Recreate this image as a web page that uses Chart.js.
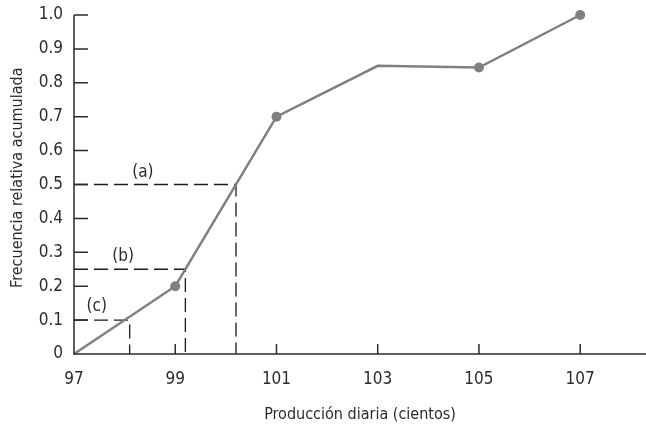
<!DOCTYPE html>
<html>
<head>
<meta charset="utf-8">
<script src="https://cdn.jsdelivr.net/npm/chart.js@4"></script>
<style>
  html, body { margin: 0; padding: 0; background: #fff; }
  #wrap { width: 646px; height: 428px; position: relative; }
</style>
</head>
<body>
<div id="wrap"><canvas id="ojiva"></canvas></div>
<script>
/* Ojiva: frecuencia relativa acumulada vs producción diaria */

const FONT = '"Liberation Sans Narrow", "DejaVu Sans Condensed", sans-serif';

// curve
const prodX = [97, 99, 101, 103, 105, 107];
const freqAcum = [0, 0.2, 0.7, 0.85, 0.845, 1.0];
const markerOn = [false, true, true, false, true, true];

// dashed reading lines
const guideY = [0.5, 0.25, 0.1];
const guideX = [100.2, 99.2, 98.1];
const guideTags = ['(a)', '(b)', '(c)'];
const tagX = [98.36, 97.97, 97.45];
const tagY = [0.535, 0.286, 0.14];

const xTicks = [97, 99, 101, 103, 105, 107];
const yTicks = [0, 0.1, 0.2, 0.3, 0.4, 0.5, 0.6, 0.7, 0.8, 0.9, 1.0];

const xTitle = 'Producción diaria (cientos)';
const yTitle = 'Frecuencia relativa acumulada';

const curve = prodX.map((x, i) => ({ x, y: freqAcum[i] }));

const guideSets = guideY.map((gy, i) => ({
    data: [{ x: 97, y: gy }, { x: guideX[i], y: gy }, { x: guideX[i], y: 0 }],
    borderColor: '#1a1a1a',
    borderWidth: 1.3,
    borderDash: [14, 6],
    pointRadius: 0,
    fill: false,
    order: 2,
}));

// axes drawn by hand: inward tick marks, solid axis lines, tags, y title
const axesPlugin = {
    id: 'axesPlugin',
    afterDatasetsDraw(chart) {
        const { ctx, chartArea, scales } = chart;
        const xs = scales.x, ys = scales.y;
        ctx.save();
        ctx.strokeStyle = '#2b2b2b';
        ctx.lineWidth = 1.5;
        ctx.beginPath();
        ctx.moveTo(chartArea.left, ys.getPixelForValue(1.0));
        ctx.lineTo(chartArea.left, chartArea.bottom);
        ctx.lineTo(chartArea.right, chartArea.bottom);
        yTicks.forEach(v => {
            const py = ys.getPixelForValue(v);
            ctx.moveTo(chartArea.left, py);
            ctx.lineTo(chartArea.left + 14, py);
        });
        xTicks.forEach(v => {
            const px = xs.getPixelForValue(v);
            ctx.moveTo(px, chartArea.bottom);
            ctx.lineTo(px, chartArea.bottom - 10);
        });
        ctx.stroke();

        ctx.fillStyle = '#2b2b2b';
        ctx.font = '17px ' + FONT;
        ctx.textAlign = 'center';
        ctx.textBaseline = 'middle';
        guideTags.forEach((t, i) => {
            ctx.fillText(t, xs.getPixelForValue(tagX[i]), ys.getPixelForValue(tagY[i]));
        });

        ctx.font = '16px ' + FONT;
        ctx.translate(18, ys.getPixelForValue(0.52));
        ctx.rotate(-Math.PI / 2);
        ctx.fillText(yTitle, 0, 0);
        ctx.restore();
    }
};

new Chart(document.getElementById('ojiva'), {
    type: 'line',
    data: {
        datasets: [
            {
                data: curve,
                borderColor: '#808083',
                borderWidth: 2.5,
                pointRadius: markerOn.map(m => m ? 5 : 0),
                pointBackgroundColor: '#808083',
                pointBorderWidth: 0,
                tension: 0,
                fill: false,
                clip: false,
                order: 1,
            },
            ...guideSets,
        ],
    },
    options: {
        responsive: true,
        maintainAspectRatio: false,
        animation: false,
        layout: { autoPadding: false, padding: { top: 15, right: 0, left: 0, bottom: 0 } },
        plugins: {
            legend: { display: false },
            tooltip: { enabled: false },
        },
        scales: {
            x: {
                type: 'linear',
                min: 97,
                max: 108.3,
                afterBuildTicks: s => { s.ticks = xTicks.map(v => ({ value: v })); },
                afterFit: s => { s.height = 74; s.paddingRight = 0; s.paddingLeft = 0; },
                grid: { display: false, drawTicks: false, tickLength: 0 },
                border: { display: false },
                ticks: {
                    color: '#2b2b2b',
                    font: { family: FONT, size: 17 },
                    padding: 15,
                    maxRotation: 0,
                    callback: v => String(v),
                },
                title: {
                    display: true,
                    text: xTitle,
                    color: '#2b2b2b',
                    font: { family: FONT, size: 16 },
                    padding: { top: 8 },
                },
            },
            y: {
                min: 0,
                max: 1.0,
                afterBuildTicks: s => { s.ticks = yTicks.map(v => ({ value: v })); },
                afterFit: s => { s.width = 74; s.paddingTop = 0; s.paddingBottom = 0; },
                grid: { display: false, drawTicks: false, tickLength: 0 },
                border: { display: false },
                ticks: {
                    color: '#2b2b2b',
                    font: { family: FONT, size: 17 },
                    padding: 11,
                    callback: v => v === 0 ? '0' : v.toFixed(1),
                },
                title: { display: false },
            },
        },
    },
    plugins: [axesPlugin],
});
</script>
</body>
</html>
